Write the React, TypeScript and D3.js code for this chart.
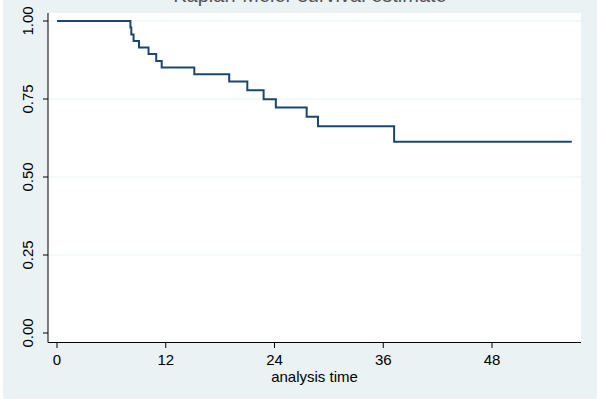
import React from "react";
import * as d3 from "d3";

const times = [0, 8.1, 8.2, 8.45, 9.05, 10.1, 10.95, 11.55, 15.15, 19.0, 21.0, 22.8, 24.15, 27.55, 28.8, 37.2, 56.8];
const survival = [1, 0.979, 0.957, 0.936, 0.915, 0.894, 0.872, 0.851, 0.829, 0.806, 0.778, 0.749, 0.723, 0.693, 0.663, 0.613, 0.613];
const xTicks = [0, 12, 24, 36, 48];
const yTicks = [0, 0.25, 0.5, 0.75, 1];
const title = "Kaplan-Meier survival estimate";
const xTitle = "analysis time";

export default function App() {
  const W = 600, H = 405;
  const plot = { left: 48, right: 581, top: 13, bottom: 342.5 };
  const x = d3.scaleLinear().domain([0, 48]).range([57, 492]);
  const y = d3.scaleLinear().domain([0, 1]).range([333, 21]);
  const pts = times.map((t, i) => [t, survival[i]] as [number, number]);
  const line = d3.line<[number, number]>().x(d => x(d[0])).y(d => y(d[1])).curve(d3.curveStepAfter);
  const font = "'Liberation Sans', Arial, sans-serif";
  return (
    <svg width={W} height={H} style={{ position: "absolute", left: 0, top: 0 }}>
      <rect x={3} y={0} width={594} height={399} fill="#eaf2f3" />
      <rect x={plot.left} y={plot.top} width={plot.right - plot.left} height={plot.bottom - plot.top} fill="#ffffff" />
      {yTicks.filter(v => v > 0).map(v => (
        <line key={"g" + v} x1={plot.left} x2={plot.right} y1={y(v)} y2={y(v)} stroke="#eaf2f3" strokeWidth={1.2} />
      ))}
      <text x={310} y={2} textAnchor="middle" fontFamily={font} fontSize={20} fill="#555">{title}</text>
      <path d={line(pts) || ""} fill="none" stroke="#1a476f" strokeWidth={2} />
      <line x1={plot.left} x2={plot.left} y1={plot.top} y2={plot.bottom} stroke="#000" strokeWidth={1} />
      <line x1={plot.left} x2={plot.right} y1={plot.bottom} y2={plot.bottom} stroke="#000" strokeWidth={1} />
      {yTicks.map(v => (
        <g key={"y" + v}>
          <line x1={plot.left - 5} x2={plot.left} y1={y(v)} y2={y(v)} stroke="#000" />
          <text transform={`translate(${33},${y(v)}) rotate(-90)`} textAnchor="middle" fontFamily={font} fontSize={15} fill="#000">{v.toFixed(2)}</text>
        </g>
      ))}
      {xTicks.map(v => (
        <g key={"x" + v}>
          <line x1={x(v)} x2={x(v)} y1={plot.bottom} y2={plot.bottom + 5.5} stroke="#000" />
          <text x={x(v)} y={365} textAnchor="middle" fontFamily={font} fontSize={15} fill="#000">{v}</text>
        </g>
      ))}
      <text x={(plot.left + plot.right) / 2} y={382} textAnchor="middle" fontFamily={font} fontSize={15} fill="#000">{xTitle}</text>
    </svg>
  );
}
